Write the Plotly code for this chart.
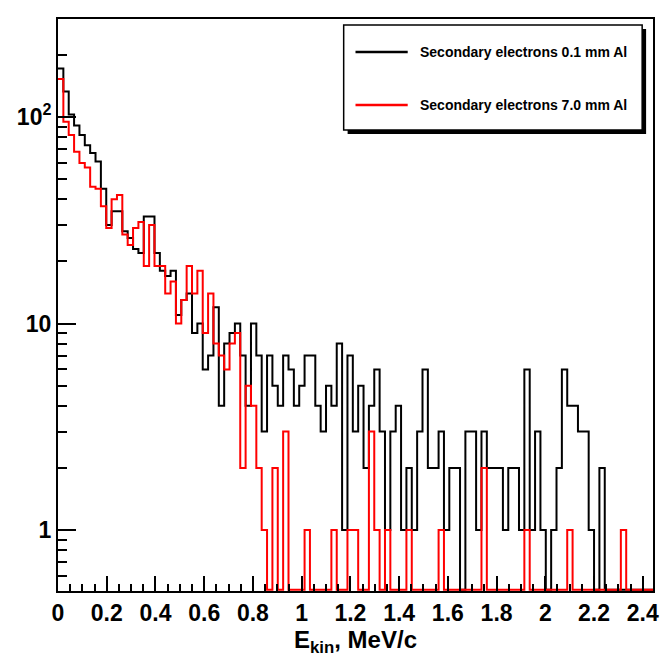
import numpy as np
import plotly.graph_objects as go

# ---- data: counts per bin (bin width 0.022 MeV, starting at 0) ----
bin_width = 0.022
black_counts = [172, 133, 103, 91, 82, 73, 67, 61, 45, 30,
                35, 35, 28, 26, 23, 22, 33, 33, 22, 18,
                17, 18, 11, 13, 14, 9, 10, 6, 7, 12,
                4, 8, 9, 10, 7, 4, 10, 7, 3, 7,
                5, 4, 7, 6, 4, 5, 7, 7, 4, 3,
                5, 4, 8, 1, 7, 3, 5, 2, 4, 6,
                3, 1, 3, 4, 1, 2, 1, 3, 6, 2,
                2, 3, 1, 2, 2, 0, 3, 3, 1, 3,
                2, 2, 2, 1, 2, 2, 1, 6, 1, 3,
                1, 0, 1, 2, 6, 4, 4, 3, 3, 1,
                0, 2, 0, 0, 0, 0, 0, 0, 0, 0, 0]
red_counts = [153, 95, 82, 68, 60, 57, 46, 45, 37, 29,
              40, 42, 27, 24, 29, 31, 19, 30, 19, 19,
              14, 16, 10, 13, 19, 14, 18, 9, 14, 8,
              7, 6, 8, 9, 2, 5, 4, 2, 1, 0,
              2, 0, 3, 0, 0, 0, 1, 0, 0, 0,
              0, 1, 0, 0, 1, 1, 0, 0, 3, 1,
              0, 1, 0, 0, 0, 1, 0, 0, 0, 0,
              0, 1, 0, 0, 0, 0, 0, 0, 0, 2,
              0, 0, 0, 0, 0, 0, 0, 1, 0, 0,
              0, 0, 0, 0, 0, 1, 0, 0, 0, 0,
              0, 0, 0, 0, 0, 1, 0, 0, 0, 0, 0]
series_names = ["Secondary electrons 0.1 mm Al", "Secondary electrons 7.0 mm Al"]
series_colors = ["black", "red"]
x_tick_vals = [0, 0.2, 0.4, 0.6, 0.8, 1.0, 1.2, 1.4, 1.6, 1.8, 2.0, 2.2, 2.4]
x_tick_text = ["0", "0.2", "0.4", "0.6", "0.8", "1", "1.2", "1.4", "1.6", "1.8", "2", "2.2", "2.4"]
y_tick_vals = [1, 10, 100]
y_tick_text = ["1", "10", "10<sup>2</sup>"]

# ---- layout constants (page body has an 8px margin, so the figure is offset by 8px) ----
OFF = 8
W, H = 668 - OFF, 661 - OFF
ML, MR, MT, MB = 55 - OFF, 9, 19 - OFF, 70
ylog_min, ylog_max = -0.295, 2.475
xmax = bin_width * len(black_counts)
FONT = "Liberation Sans, Arial, Helvetica, sans-serif"

def step_xy(counts):
    c = np.asarray(counts, dtype=float)
    edges = np.arange(len(c) + 1) * bin_width
    floor = 10 ** (ylog_min + 0.006)
    v = np.where(c > 0, c, floor)
    return edges, np.append(v, v[-1])

fig = go.Figure()
for counts, name, col in zip([black_counts, red_counts], series_names, series_colors):
    xs, ys = step_xy(counts)
    fig.add_trace(go.Scatter(x=xs, y=ys, mode="lines", line=dict(color=col, width=2, shape="hv"),
                             name=name, showlegend=False, hoverinfo="skip"))

# minor tick positions on the log axis
y_minor = [m * 10 ** d for d in (-1, 0, 1, 2) for m in range(2, 10)
           if ylog_min < np.log10(m * 10 ** d) < ylog_max]

fig.update_layout(
    width=W, height=H,
    margin=dict(l=ML, r=MR, t=MT, b=MB),
    paper_bgcolor="white", plot_bgcolor="white",
    showlegend=False,
    font=dict(family=FONT, color="black"),
    xaxis=dict(range=[0, xmax], showgrid=False, zeroline=False,
               showline=True, linecolor="black", linewidth=2, mirror=True,
               ticks="inside", ticklen=15, tickwidth=1.5, tickcolor="black",
               tickmode="array", tickvals=x_tick_vals, ticktext=x_tick_text,
               tickfont=dict(family=FONT, size=23, weight="bold"),
               minor=dict(ticks="inside", ticklen=7, tickwidth=1.5, tickcolor="black",
                          dtick=0.05, tick0=0, showgrid=False),
               title=dict(text="E<sub>kin</sub>, MeV/c", standoff=6,
                          font=dict(family=FONT, size=24, weight="bold"))),
    yaxis=dict(type="log", range=[ylog_min, ylog_max], showgrid=False, zeroline=False,
               showline=True, linecolor="black", linewidth=2, mirror=True,
               ticks="inside", ticklen=18, tickwidth=1.5, tickcolor="black",
               tickmode="array", tickvals=y_tick_vals, ticktext=y_tick_text,
               tickfont=dict(family=FONT, size=23, weight="bold"),
               minor=dict(ticks="inside", ticklen=9, tickwidth=1.5, tickcolor="black",
                          tickmode="array", tickvals=y_minor, showgrid=False)),
)

# ---- legend box drawn like ROOT TLegend (with shadow); coords in window pixels ----
pw = W - ML - MR
ph = H - MT - MB
def px(x):
    return (x - OFF - ML) / pw
def py(y):
    return (H - MB - (y - OFF)) / ph

bx0, by0, bx1, by1 = 345, 25, 648, 130
fig.add_shape(type="rect", xref="paper", yref="paper",
              x0=px(bx0 + 4), x1=px(bx1 + 4), y0=py(by1 + 4), y1=py(by0 + 4),
              fillcolor="black", line=dict(width=0), layer="above")
fig.add_shape(type="rect", xref="paper", yref="paper",
              x0=px(bx0), x1=px(bx1), y0=py(by1), y1=py(by0),
              fillcolor="white", line=dict(color="black", width=1.5), layer="above")
for i, (name, col) in enumerate(zip(series_names, series_colors)):
    yy = 52 + i * 53
    fig.add_shape(type="line", xref="paper", yref="paper",
                  x0=px(357), x1=px(410), y0=py(yy), y1=py(yy),
                  line=dict(color=col, width=2.5), layer="above")
    fig.add_annotation(xref="paper", yref="paper", x=px(420), y=py(yy),
                       xanchor="left", yanchor="middle", showarrow=False,
                       text=name, font=dict(family=FONT, size=14, weight="bold", color="black"))

fig.write_html("out.html")
